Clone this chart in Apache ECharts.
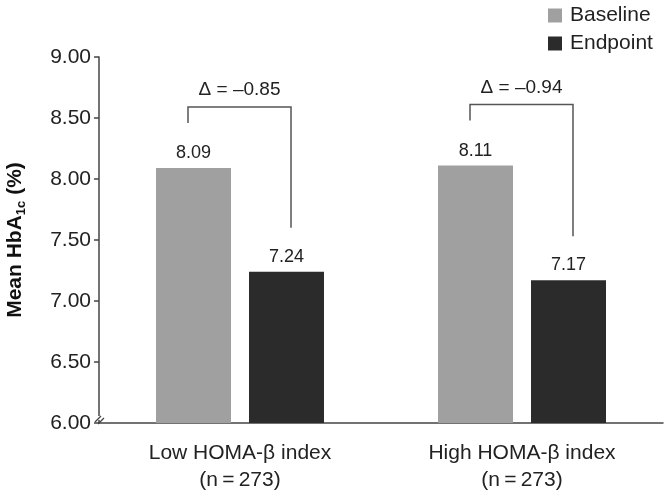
<!DOCTYPE html>
<html>
<head>
<meta charset="utf-8">
<script src="https://cdn.jsdelivr.net/npm/echarts@6/dist/echarts.min.js"></script>
<style>
  html, body { margin: 0; padding: 0; background: #fff; }
  #chart { width: 666px; height: 496px; }
</style>
</head>
<body>
<div id="chart"></div>
<script>
const categories = ['Low HOMA-\u03b2 index\n(n\u2009=\u2009273)', 'High HOMA-\u03b2 index\n(n\u2009=\u2009273)']
const baseline = [8.09, 8.11]
const endpoint = [7.24, 7.17]
const yTicks = [6, 6.5, 7, 7.5, 8, 8.5, 9]

const FONT = 'Liberation Sans'
const AXIS = '#444'
const BASE_COLOR = '#a0a0a0'
const END_COLOR = '#2b2b2b'

const bracketData = baseline.map((b, i) => [i, b, endpoint[i], endpoint[i] - b])

function fmtDelta(d) {
  return '\u0394 = ' + (d < 0 ? '\u2013' : '') + Math.abs(d).toFixed(2)
}

function renderBracket(params, api) {
  const i = api.value(0)
  const b = api.value(1)
  const e = api.value(2)
  const c = api.coord([i, 0])
  const top = api.coord([i, Math.max(b, e) + 0.5])[1]
  const leftBottom = api.coord([i, b + 0.37])[1]
  const rightBottom = api.coord([i, e + 0.36])[1]
  const xl = c[0] - 52
  const xr = c[0] + 51
  return {
    type: 'group',
    children: [
      {
        type: 'polyline',
        shape: { points: [[xl, leftBottom], [xl, top], [xr, top], [xr, rightBottom]] },
        style: { stroke: '#555', lineWidth: 1.5, fill: null }
      },
      {
        type: 'text',
        style: {
          x: (xl + xr) / 2, y: top - 17,
          text: fmtDelta(api.value(3)),
          align: 'center', verticalAlign: 'middle',
          font: '19px "' + FONT + '"', fill: '#222'
        }
      }
    ]
  }
}

const chart = echarts.init(document.getElementById('chart'))
chart.setOption({
  animation: false,
  textStyle: { fontFamily: FONT },
  grid: { left: 99, right: 3, top: 57, bottom: 73, outerBoundsMode: 'none' },
  legend: {
    orient: 'vertical', left: 543, top: 0,
    itemWidth: 14, itemHeight: 14, itemGap: 7,
    icon: 'rect',
    textStyle: { fontSize: 21, color: '#222', padding: [0, 0, 0, 3] },
    data: ['Baseline', 'Endpoint']
  },
  xAxis: {
    type: 'category',
    data: categories,
    axisLine: { lineStyle: { color: AXIS, width: 1.5 } },
    axisTick: { show: false },
    axisLabel: { fontSize: 21, color: '#222', lineHeight: 27, margin: 17 }
  },
  yAxis: {
    type: 'value',
    min: yTicks[0], max: yTicks[yTicks.length - 1], interval: 0.5,
    name: '{b|Mean HbA}{s|1c}{b| (%)}',
    nameLocation: 'middle', nameGap: 71, nameRotate: 90,
    nameTextStyle: {
      rich: {
        b: { fontSize: 21, fontWeight: 'bold', color: '#111', fontFamily: FONT, lineHeight: 26, verticalAlign: 'middle' },
        s: { fontSize: 13, fontWeight: 'bold', color: '#111', fontFamily: FONT, lineHeight: 26, verticalAlign: 'bottom', padding: [8, 0, 0, 0] }
      }
    },
    splitLine: { show: false },
    axisLine: { show: true, lineStyle: { color: AXIS, width: 1.5 } },
    axisTick: { show: true, length: 5, lineStyle: { color: AXIS, width: 1.5 } },
    axisLabel: { fontSize: 21, color: '#222', margin: 8, formatter: v => v.toFixed(2) }
  },
  series: [
    {
      name: 'Baseline', type: 'bar', data: baseline,
      barWidth: 75, barGap: '24%',
      itemStyle: { color: BASE_COLOR },
      label: { show: true, position: 'top', distance: 6, fontSize: 18, color: '#222', formatter: p => p.value.toFixed(2) }
    },
    {
      name: 'Endpoint', type: 'bar', data: endpoint,
      barWidth: 75,
      itemStyle: { color: END_COLOR },
      label: { show: true, position: 'top', distance: 6, fontSize: 18, color: '#222', formatter: p => p.value.toFixed(2) }
    },
    {
      type: 'custom', data: bracketData,
      renderItem: renderBracket,
      silent: true, z: 5
    }
  ]
})

// axis break mark at the origin
const o = chart.convertToPixel({ gridIndex: 0 }, [0, yTicks[0]])
const ox = 99
chart.setOption({
  graphic: [
    { type: 'rect', shape: { x: ox - 4, y: o[1] - 7, width: 8, height: 4 }, style: { fill: '#fff' }, z: 100 },
    { type: 'line', shape: { x1: ox - 4, y1: o[1] - 1, x2: ox + 2, y2: o[1] - 7 }, style: { stroke: AXIS, lineWidth: 1.3 }, z: 101 },
    { type: 'line', shape: { x1: ox - 1, y1: o[1] + 1, x2: ox + 5, y2: o[1] - 5 }, style: { stroke: AXIS, lineWidth: 1.3 }, z: 101 }
  ]
})
</script>
</body>
</html>
